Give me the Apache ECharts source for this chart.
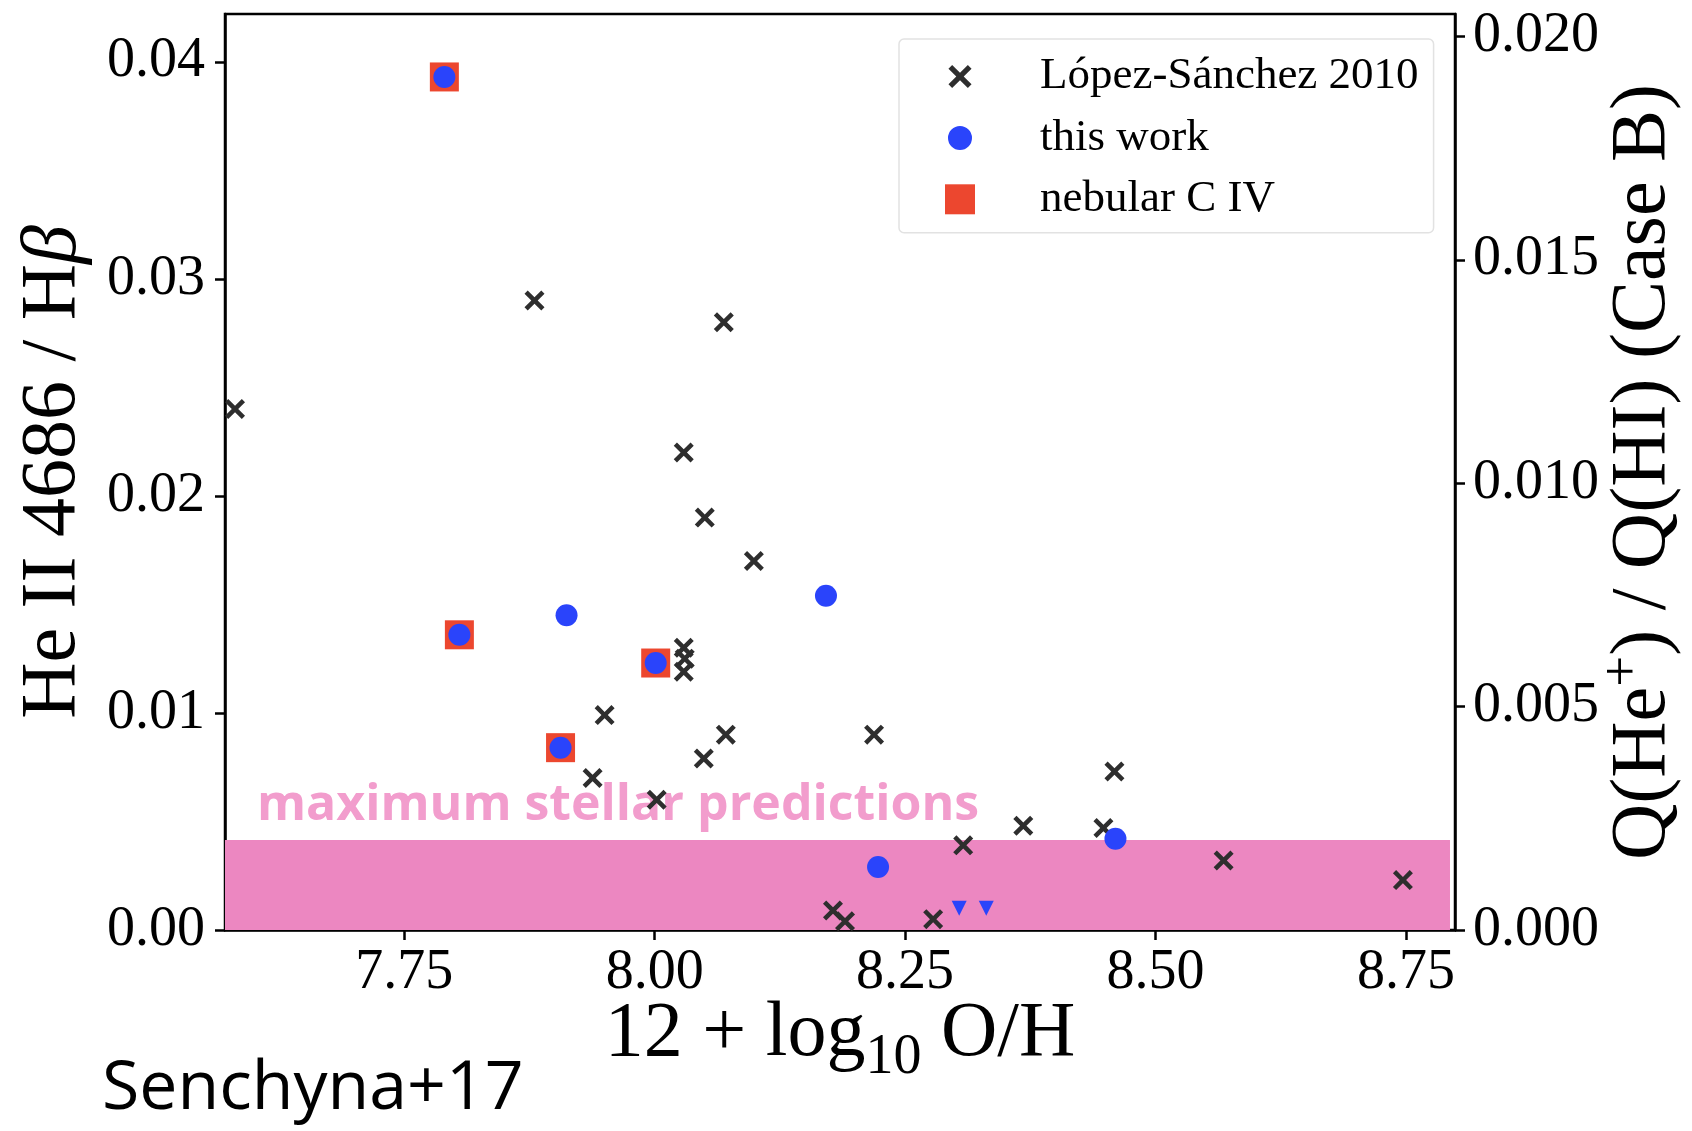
<!DOCTYPE html>
<html>
<head>
<meta charset="utf-8">
<script src="https://cdn.jsdelivr.net/npm/echarts@6/dist/echarts.min.js"></script>
<style>
  html, body { margin: 0; padding: 0; background: #ffffff; }
  #chart { width: 1692px; height: 1131px; }
</style>
</head>
<body>
<div id="chart"></div>
<script>
// 12 + log10(O/H) against He II 4686 / Hbeta
const lopezSanchez = [
  [7.581, 0.0240], [7.880, 0.0290], [8.069, 0.0280], [8.029, 0.0220],
  [8.050, 0.0190], [8.099, 0.0170], [8.029, 0.0130], [8.030, 0.0125],
  [8.029, 0.0119], [7.950, 0.0099], [8.071, 0.0090], [8.049, 0.0079],
  [7.938, 0.0070], [8.002, 0.0060], [8.219, 0.0090], [8.459, 0.0073],
  [8.368, 0.0048], [8.448, 0.0047], [8.308, 0.0039], [8.568, 0.0032],
  [8.747, 0.0023], [8.178, 0.0009], [8.190, 0.0004], [8.278, 0.0005]
];
const thisWork = [
  [7.790, 0.0393], [7.805, 0.0136], [7.912, 0.0145], [7.906, 0.0084],
  [8.001, 0.0123], [8.171, 0.0154], [8.223, 0.0029], [8.460, 0.0042]
];
const thisWorkUpperLimits = [[8.304, 0.0010], [8.331, 0.0010]];
const nebularCIV = [
  [7.790, 0.0393], [7.805, 0.0136], [7.906, 0.0084], [8.001, 0.0123]
];

// maximum He II / Hbeta reachable by stellar population models
const bandX = [7.571, 8.794];
const bandY = [0, 0.00415];

const xRange = [7.571, 8.799];
const yRange = [0, 0.0422];
const qRange = [0, 0.0205];
const xTicks = [7.75, 8.00, 8.25, 8.50, 8.75];
const yTicks = [0, 0.01, 0.02, 0.03, 0.04];
const qTicks = [0, 0.005, 0.010, 0.015, 0.020];

const SERIF = '"Liberation Serif", "DejaVu Serif", serif';
const SANS = '"Open Sans", "Noto Sans", sans-serif';
const INK = '#000000';
const BLUE = '#2a44fb';
const RED = '#ec472f';
const CROSS = '#2e2e2e';

// thick "x" marker, and legend variants padded with invisible corner dots
const crossPath = 'M0,1.6 L1.6,0 L5,3.4 L8.4,0 L10,1.6 L6.6,5 L10,8.4 L8.4,10 L5,6.6 L1.6,10 L0,8.4 L3.4,5 Z';
const crossIcon = 'path://' + crossPath +
  ' M-1.5,-1.5 L-1.49,-1.5 L-1.49,-1.49 Z M11.5,11.5 L11.49,11.5 L11.49,11.49 Z';
const circleIcon = 'path://M3,15 A12,12 0 1 1 27,15 A12,12 0 1 1 3,15 Z' +
  ' M0,0 L0.01,0 L0.01,0.01 Z M30,30 L29.99,30 L29.99,29.99 Z';

const axisLineStyle = { color: INK, width: 2.5 };

const chart = echarts.init(document.getElementById('chart'), null, { renderer: 'canvas' });

chart.setOption({
  animation: false,
  backgroundColor: '#ffffff',
  grid: {
    left: 225, right: 237, top: 14, bottom: 201,
    show: true, borderColor: INK, borderWidth: 2.5,
    backgroundColor: 'transparent',
    outerBoundsMode: 'none'
  },
  legend: {
    orient: 'vertical',
    left: 899, top: 39,
    padding: [15, 15, 11, 46],
    itemWidth: 30, itemHeight: 30, itemGap: 16.4,
    backgroundColor: 'rgba(255,255,255,0.85)',
    borderColor: '#e2e2e2', borderWidth: 1.5, borderRadius: 5,
    selectedMode: false,
    textStyle: { fontFamily: SERIF, fontSize: 45, color: INK, lineHeight: 30, padding: [0, 0, 0, 60] },
    data: [
      { name: 'López-Sánchez 2010', icon: crossIcon },
      { name: 'this work', icon: circleIcon },
      { name: 'nebular C IV', icon: 'rect' }
    ]
  },
  xAxis: {
    type: 'value',
    min: xRange[0], max: xRange[1],
    axisLine: { show: true, onZero: false, lineStyle: axisLineStyle },
    axisTick: { show: true, customValues: xTicks, length: 10, lineStyle: axisLineStyle },
    axisLabel: {
      customValues: xTicks, formatter: v => v.toFixed(2),
      fontFamily: SERIF, fontSize: 56, color: INK, margin: 15
    },
    splitLine: { show: false },
    name: '{n|12 + log}{s|10}{n| O/H}',
    nameLocation: 'middle', nameGap: 54, nameMoveOverlap: false,
    nameTextStyle: {
      fontFamily: SERIF, fontSize: 78, color: INK,
      rich: {
        n: { fontFamily: SERIF, fontSize: 78, color: INK },
        s: { fontFamily: SERIF, fontSize: 56, color: INK, padding: [46, 0, 0, 0] }
      }
    }
  },
  yAxis: [
    {
      type: 'value', position: 'left',
      min: yRange[0], max: yRange[1],
      axisLine: { show: true, onZero: false, lineStyle: axisLineStyle },
      axisTick: { show: true, customValues: yTicks, length: 10, lineStyle: axisLineStyle },
      axisLabel: {
        customValues: yTicks, formatter: v => v.toFixed(2),
        fontFamily: SERIF, fontSize: 56, color: INK, margin: 20
      },
      splitLine: { show: false },
      name: '{n|He II 4686 / H}{i|β}',
      nameLocation: 'middle', nameRotate: 90, nameGap: 132, nameMoveOverlap: false,
      nameTextStyle: {
        fontFamily: SERIF, fontSize: 78, color: INK,
        rich: {
          n: { fontFamily: SERIF, fontSize: 78, color: INK },
          i: { fontFamily: SERIF, fontSize: 78, color: INK, fontStyle: 'italic' }
        }
      }
    },
    {
      type: 'value', position: 'right',
      min: qRange[0], max: qRange[1],
      axisLine: { show: true, onZero: false, lineStyle: axisLineStyle },
      axisTick: { show: true, customValues: qTicks, length: 10, lineStyle: axisLineStyle },
      axisLabel: {
        customValues: qTicks, formatter: v => v.toFixed(3),
        fontFamily: SERIF, fontSize: 56, color: INK, margin: 18
      },
      splitLine: { show: false },
      name: '{n|Q(He}{p|+}{n|) / Q(HI) (Case B)}',
      nameLocation: 'middle', nameRotate: 90, nameGap: 141, nameMoveOverlap: false,
      nameTextStyle: {
        fontFamily: SERIF, fontSize: 78, color: INK,
        rich: {
          n: { fontFamily: SERIF, fontSize: 78, color: INK },
          p: { fontFamily: SERIF, fontSize: 55, color: INK, padding: [0, 0, 40, 0] }
        }
      }
    }
  ],
  series: [
    {
      name: 'stellar band',
      type: 'scatter',
      z: 1,
      data: [],
      markArea: {
        silent: true,
        itemStyle: { color: '#ec87c1', opacity: 1 },
        label: {
          show: true, position: [32, -59], formatter: '{b}',
          fontFamily: SANS, fontWeight: 'bold', fontSize: 50, color: '#f29dcd'
        },
        data: [[
          { name: 'maximum stellar predictions', coord: [bandX[0], bandY[1]] },
          { coord: [bandX[1], bandY[0]] }
        ]]
      }
    },
    {
      name: 'López-Sánchez 2010',
      type: 'scatter', z: 3,
      symbol: 'path://' + crossPath, symbolSize: 20,
      itemStyle: { color: CROSS, opacity: 1 },
      data: lopezSanchez
    },
    {
      name: 'this work (upper limits)',
      type: 'scatter', z: 4,
      symbol: 'triangle', symbolRotate: 180, symbolSize: 15,
      itemStyle: { color: BLUE, opacity: 1 },
      data: thisWorkUpperLimits
    },
    {
      name: 'nebular C IV',
      type: 'scatter', z: 5,
      symbol: 'rect', symbolSize: 29,
      itemStyle: { color: RED, opacity: 1 },
      data: nebularCIV
    },
    {
      name: 'this work',
      type: 'scatter', z: 6,
      symbol: 'circle', symbolSize: 22,
      itemStyle: { color: BLUE, opacity: 1 },
      data: thisWork
    }
  ],
  graphic: [
    {
      type: 'text', left: 102, top: 1056,
      style: { text: 'Senchyna+17', font: '68px ' + SANS, fill: INK }
    }
  ]
});
</script>
</body>
</html>
